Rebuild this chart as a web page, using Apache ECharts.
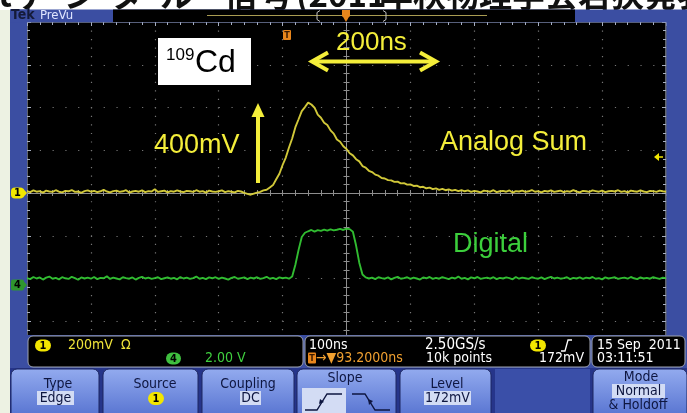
<!DOCTYPE html>
<html><head><meta charset="utf-8">
<script src="https://cdn.jsdelivr.net/npm/echarts@6/dist/echarts.min.js"></script>
<style>html,body{margin:0;padding:0;background:#000;overflow:hidden}#c{width:687px;height:413px}</style>
</head><body><div id="c"></div>
<script>
// ---------- DATA ----------
// sample times, ns relative to screen centre (100 ns / div)
const timeNs = [
-500,-495,-490,-485,-480,-475,-470,-465,-460,-455,-450,-445,-440,-435,-430,-425,-420,-415,-410,-405,
-400,-395,-390,-385,-380,-375,-370,-365,-360,-355,-350,-345,-340,-335,-330,-325,-320,-315,-310,-305,
-300,-295,-290,-285,-280,-275,-270,-265,-260,-255,-250,-245,-240,-235,-230,-225,-220,-215,-210,-205,
-200,-195,-190,-185,-180,-175,-170,-165,-160,-155,-150,-145,-140,-135,-130,-125,-120,-115,-110,-105,
-100,-95,-90,-85,-80,-75,-70,-65,-60,-55,-50,-45,-40,-35,-30,-25,-20,-15,-10,-5,
0,5,10,15,20,25,30,35,40,45,50,55,60,65,70,75,80,85,90,95,
100,105,110,115,120,125,130,135,140,145,150,155,160,165,170,175,180,185,190,195,
200,205,210,215,220,225,230,235,240,245,250,255,260,265,270,275,280,285,290,295,
300,305,310,315,320,325,330,335,340,345,350,355,360,365,370,375,380,385,390,395,
400,405,410,415,420,425,430,435,440,445,450,455,460,465,470,475,480,485,490,495,
500];
// Channel 1 "Analog Sum", mV (200 mV/div)
const ch1AnalogSumMv = [
8,4,12,6,9,2,11,7,5,13,6,3,10,8,14,5,7,1,9,12,
6,10,4,8,15,7,3,9,11,5,8,13,2,7,10,6,12,4,9,7,
18,5,8,11,3,9,6,12,7,4,10,8,5,13,6,9,2,11,7,5,
8,12,4,9,6,3,10,7,1,-4,-8,
-3,2,5,12,15,26,37,64,90,131,166,213,255,308,345,383,402,423,414,399,
367,352,329,318,293,278,250,240,219,206,186,176,158,148,126,119,104,98,86,81,
70,68,60,59,52,53,45,46,39,40,33,34,27,29,22,25,18,22,15,19,
13,17,11,15,9,13,
8,12,5,10,7,3,11,9,6,13,4,8,10,6,12,2,9,7,11,5,
8,14,6,9,3,10,7,12,5,8,11,4,9,6,13,7,3,10,8,5,
12,9,6,11,4,8,10,7,13,5,9,3,11,8,6,12,7,4,10,9,
5,11,8,6];
// Channel 4 "Digital", V (2.00 V/div)
const ch4DigitalV = [
0.33,0.28,0.38,0.31,0.36,0.26,0.35,0.40,0.30,0.34,
0.27,0.37,0.32,0.29,0.39,0.33,0.25,0.36,0.31,0.35,
0.30,0.38,0.28,0.34,0.32,0.41,0.29,0.35,0.31,0.27,
0.37,0.33,0.30,0.36,0.26,0.34,0.39,0.31,0.35,0.29,
0.33,0.37,0.28,0.32,0.36,0.30,0.34,0.27,0.38,0.31,
0.35,0.29,0.33,0.40,0.30,0.34,0.28,0.36,0.32,0.37,
0.29,0.35,0.31,0.26,0.34,0.38,0.30,0.33,0.36,0.28,
0.35,0.31,0.37,0.29,0.33,0.39,0.30,0.34,0.28,0.36,
0.32,0.35,0.30,
0.40,0.95,1.65,2.25,2.45,2.52,2.58,2.50,2.57,2.54,2.60,2.55,2.61,2.56,2.59,2.63,2.58,2.64,2.62,2.50,
1.85,1.05,0.50,0.36,
0.31,0.35,0.28,0.37,0.33,0.30,0.36,0.27,0.34,0.39,
0.30,0.33,0.37,0.29,0.35,0.31,0.26,0.36,0.32,0.38,
0.29,0.34,0.30,0.37,0.33,0.28,0.35,0.31,0.40,0.30,
0.34,0.27,0.36,0.32,0.38,0.29,0.33,0.35,0.30,0.37,
0.28,0.34,0.31,0.36,0.33,0.27,0.38,0.30,0.35,0.32,
0.29,0.37,0.33,0.30,0.36,0.28,0.34,0.39,0.31,0.35,
0.30,0.33,0.37,0.28,0.34,0.31,0.36,0.29,0.35,0.32,
0.38,0.30,0.33,0.27,0.36,0.31,0.34,0.37,0.29,0.33,
0.35,0.30,0.38,0.32,0.28,0.36,0.31,0.34,0.30,0.37,
0.33,0.29,0.35,0.32];
const titlePieces = ['t','デ','ジ','タ','ル','信','号','(2011','年','秋','物','理','学','会','若','狭','発','表'];
const ch1Readout = '200mV  Ω', ch4Readout = '2.00 V';
const timebase = '100ns', sampleRate = '2.50GS/s', trigDelay = '→▼93.2000ns', recLen = '10k points', trigLevel = '172mV';
const dateStr = '15 Sep  2011', timeStr = '03:11:51';

// ---------- CHART ----------
const chart = echarts.init(document.getElementById('c'), null, {renderer:'canvas', width:687, height:413});
const UI = '"DejaVu Sans Condensed","DejaVu Sans",sans-serif';
const AN = '"Liberation Sans",Arial,sans-serif';
const G = [];
function rect(x,y,w,h,fill,o){o=o||{};G.push({type:'rect',z:o.z||100,silent:true,shape:{x:x,y:y,width:w,height:h,r:o.r||0},style:{fill:fill,stroke:o.stroke||null,lineWidth:o.lw||0}});}
function text(x,y,s,o){o=o||{};G.push({type:'text',z:o.z||110,silent:true,x:x,y:y,style:{text:s,fill:o.fill||'#fff',font:o.font||('14px '+UI),align:o.align||'left',textAlign:o.align||'left',verticalAlign:'middle',textVerticalAlign:'middle'}});}
function poly(pts,stroke,lw,o){o=o||{};G.push({type:'polyline',z:o.z||110,silent:true,shape:{points:pts},style:{stroke:stroke,lineWidth:lw,fill:null,lineJoin:o.join||'miter',lineCap:o.cap||'butt'}});}
function tri(pts,fill,o){o=o||{};G.push({type:'polygon',z:o.z||110,silent:true,shape:{points:pts},style:{fill:fill}});}
function pill(x,y,w,h,fill,label,tc){rect(x,y,w,h,fill,{r:h/2,z:111});text(x+w/2,y+h/2+0.5,label,{align:'center',fill:tc||'#000',font:'bold 11px '+UI,z:112});}
const grad = (a,b)=>({type:'linear',x:0,y:0,x2:0,y2:1,colorStops:[{offset:0,color:a},{offset:1,color:b}]});

// slide background, title (mostly cut off)
rect(0,0,687,10,'#ffffff',{z:90});
rect(0,10,10,403,'#edf2e3',{z:90});
const titleX = [-2,16,64,110,160,224,260,296,380,413,446,479,512,545,578,611,644,677];
titlePieces.forEach((p,i)=>text(titleX[i],-6,p,{fill:'#111',font:'bold 33px "Noto Sans CJK JP",sans-serif',z:95}));
// scope frame
const BLUE='#3b4ea2';
rect(10,9.5,17,326,BLUE,{z:100});
rect(10,9.5,677,12.8,BLUE,{z:100});
rect(666.5,22,20.5,313,BLUE,{z:100});
rect(113,9.5,462,12.5,'#000',{z:101});
poly([[207,15.5],[487,15.5]],'#a99c52',1.2);
poly([[320,10.5],[317,12.5],[317,19.5],[320,21.5]],'#c4c4c4',1);
poly([[383,10.5],[386,12.5],[386,19.5],[383,21.5]],'#c4c4c4',1);
rect(342,10,8,6.5,'#e8861c',{z:111});
tri([[342.5,16],[349.5,16],[346,22]],'#e8861c',{z:111});
text(11,15.5,'Tek',{fill:'#141a38',font:'bold 14px '+UI});
text(40,15.5,'PreVu',{fill:'#dfe6ff',font:'13px '+UI});
// channel ground markers
rect(11,187.5,13,11,'#f2e600',{r:4,z:111});tri([[23,188.5],[27,193],[23,197.5]],'#f2e600',{z:111});
text(17.5,193.5,'1',{align:'center',fill:'#000',font:'bold 11px '+UI,z:112});
rect(11,279.5,13,11,'#2f962f',{r:2,z:111});tri([[23,280.5],[27,285],[23,289.5]],'#2f962f',{z:111});
text(17.5,285.5,'4',{align:'center',fill:'#000',font:'bold 11px '+UI,z:112});
// trigger markers in graticule
rect(283,30,8,10,'#e8861c',{r:1,z:111});
text(287,35.5,'T',{align:'center',fill:'#3a1a00',font:'bold 9px '+UI,z:112});
tri([[654,157],[659,153],[659,161]],'#f2e600');poly([[658,157],[663,157]],'#f2e600',1.5);

// annotations
rect(158,38,93,47,'#ffffff',{z:105});
text(166,55,'109',{fill:'#000',font:'17px '+AN});
text(195,63,'Cd',{fill:'#000',font:'32px '+AN});
const YEL='#f4ee3a';
text(336,43,'200ns',{fill:YEL,font:'26px '+AN});
poly([[313,61.5],[434,61.5]],YEL,4);
poly([[328,52.5],[312,61.5],[328,70.5]],YEL,4);
poly([[420,52.5],[436,61.5],[420,70.5]],YEL,4);
text(154,146,'400mV',{fill:YEL,font:'27px '+AN});
poly([[258,183],[258,114]],YEL,4);
tri([[251.5,117],[264.5,117],[258,103]],YEL);
text(440,143,'Analog Sum',{fill:YEL,font:'27px '+AN});
text(453,245,'Digital',{fill:'#3ccf3c',font:'27px '+AN});

// readout panel
rect(10,335,677,33,BLUE,{z:100});
rect(28,336,275,31,'#000',{r:5,stroke:'#9ea3b0',lw:1,z:101});
rect(305,336,285,31,'#000',{r:5,stroke:'#9ea3b0',lw:1,z:101});
rect(592,336,93,31,'#000',{r:5,stroke:'#9ea3b0',lw:1,z:101});
pill(35,339.5,16,12,'#f2e600','1');
text(68,345.5,ch1Readout,{fill:'#f0e43a'});
pill(166,352.5,15,12,'#3fbf3f','4');
text(205,358.5,ch4Readout,{fill:'#3fcf3f'});
text(309,345.5,timebase);
text(425,345.5,sampleRate,{font:'15px '+UI});
pill(530,339.5,16,12,'#f2e600','1');
poly([[561,351],[565,351],[568,340],[572,340]],'#fff',1.3);
rect(308,352.5,8,11,'#e8861c',{r:1,z:111});
text(312,358.5,'T',{align:'center',fill:'#3a1a00',font:'bold 9px '+UI,z:112});
text(316,358.5,trigDelay,{fill:'#f0a030'});
text(426,358.5,recLen);
text(584,358.5,trigLevel,{align:'right'});
text(597,345.5,dateStr);
text(597,358.5,timeStr);

// button bar
rect(10,368,677,45,'#26358a',{z:100});
const BT=grad('#93abef','#5a76d2');
[[11,88],[103,95],[202,92],[297,99],[400,91],[593,94]].forEach(b=>rect(b[0],369,b[1],45,BT,{r:[6,6,0,0],stroke:'#1c2760',lw:1,z:101}));
rect(495,369,95,45,'#3a4fa8',{z:101});
const BTX='#0e1640', HL='#d3dcf4';
text(58,384,'Type',{align:'center',fill:BTX});
rect(37,391,37,14,HL,{z:105});text(55.5,398.5,'Edge',{align:'center',fill:BTX});
text(155,384,'Source',{align:'center',fill:BTX});
pill(148,392,16,13,'#f2e600','1');
text(248,384,'Coupling',{align:'center',fill:BTX});
rect(240,391,21,14,HL,{z:105});text(250.5,398.5,'DC',{align:'center',fill:BTX});
text(345,378,'Slope',{align:'center',fill:BTX});
rect(302,388,44,25,HL,{z:105});
poly([[305,410],[317,410],[327,394],[342,394]],BTX,1.4);
tri([[319,404],[324,402],[320,399]],BTX);
poly([[352,394],[365,394],[375,410],[390,410]],BTX,1.4);
tri([[368,399],[373,401],[369,405]],BTX);
text(447,384,'Level',{align:'center',fill:BTX});
rect(424,391,47,14,HL,{z:105});text(447.5,398.5,trigLevel,{align:'center',fill:BTX});
text(641,377,'Mode',{align:'center',fill:BTX});
rect(612,384,53,14,HL,{z:105});text(638.5,391.5,'Normal',{align:'center',fill:BTX});
text(638,405.5,'& Holdoff',{align:'center',fill:BTX});

const GRID='#767676', CTR='#8e8e8e', EDGE='#a8b0c2';
const hid={show:false};
const option = {
  backgroundColor:'#000', animation:false,
  grid:{left:27,right:21,top:22,bottom:49,show:true,borderColor:'#c4ccdc',borderWidth:1,backgroundColor:'#000'},
  xAxis:[
    {type:'value',min:-500,max:500,interval:100,position:'bottom',
     axisLine:{show:true,onZero:true,onZeroAxisIndex:0,lineStyle:{color:CTR,width:1}},
     axisTick:{show:true,inside:true,length:3,lineStyle:{color:CTR}},
     minorTick:{show:true,splitNumber:5,length:3,lineStyle:{color:CTR}},
     axisLabel:hid,splitLine:{show:true,lineStyle:{color:GRID,width:1.2,type:[1.2,7.33]}}},
    {type:'value',min:-500,max:500,interval:100,position:'top',
     axisLine:{show:false,onZero:false},
     axisTick:{show:true,inside:true,length:4,lineStyle:{color:EDGE}},
     minorTick:{show:true,splitNumber:5,length:3,lineStyle:{color:EDGE}},
     axisLabel:hid,splitLine:hid},
    {type:'value',min:-500,max:500,interval:100,position:'bottom',
     axisLine:{show:false,onZero:true,onZeroAxisIndex:0},
     axisTick:{show:true,inside:false,length:3,lineStyle:{color:CTR}},
     minorTick:{show:true,splitNumber:5,length:3,lineStyle:{color:CTR}},
     axisLabel:hid,splitLine:hid}
  ],
  yAxis:[
    {type:'value',min:-800,max:800,interval:200,position:'left',
     axisLine:{show:true,onZero:true,onZeroAxisIndex:0,lineStyle:{color:CTR,width:1}},
     axisTick:{show:true,inside:true,length:3,lineStyle:{color:CTR}},
     minorTick:{show:true,splitNumber:5,length:3,lineStyle:{color:CTR}},
     axisLabel:hid,splitLine:{show:true,lineStyle:{color:GRID,width:1.2,type:[1.2,11.58]}}},
    {type:'value',min:-800,max:800,interval:200,position:'left',
     axisLine:{show:false,onZero:true,onZeroAxisIndex:0},
     axisTick:{show:true,inside:false,length:3,lineStyle:{color:CTR}},
     minorTick:{show:true,splitNumber:5,length:3,lineStyle:{color:CTR}},
     axisLabel:hid,splitLine:hid},
    {type:'value',min:-800,max:800,interval:200,position:'left',
     axisLine:{show:false,onZero:false},
     axisTick:{show:true,inside:true,length:4,lineStyle:{color:EDGE}},
     minorTick:{show:true,splitNumber:5,length:3,lineStyle:{color:EDGE}},
     axisLabel:hid,splitLine:hid},
    {type:'value',min:-800,max:800,interval:200,position:'right',
     axisLine:{show:false,onZero:false},
     axisTick:{show:true,inside:true,length:4,lineStyle:{color:EDGE}},
     minorTick:{show:true,splitNumber:5,length:3,lineStyle:{color:EDGE}},
     axisLabel:hid,splitLine:hid},
    {type:'value',min:-3.69,max:12.31,show:false,splitLine:hid}
  ],
  graphic:{elements:G},
  series:[
    {type:'line',name:'Analog Sum',xAxisIndex:0,yAxisIndex:0,symbol:'none',showSymbol:false,
     data:timeNs.map((t,i)=>[t,ch1AnalogSumMv[i]]),lineStyle:{color:'#dcd33c',width:1.9,opacity:0.95},z:5},
    {type:'line',name:'Digital',xAxisIndex:0,yAxisIndex:4,symbol:'none',showSymbol:false,
     data:timeNs.map((t,i)=>[t,ch4DigitalV[i]]),lineStyle:{color:'#34c634',width:1.9,opacity:0.95},z:5}
  ]
};
chart.setOption(option);
</script>
</body></html>
